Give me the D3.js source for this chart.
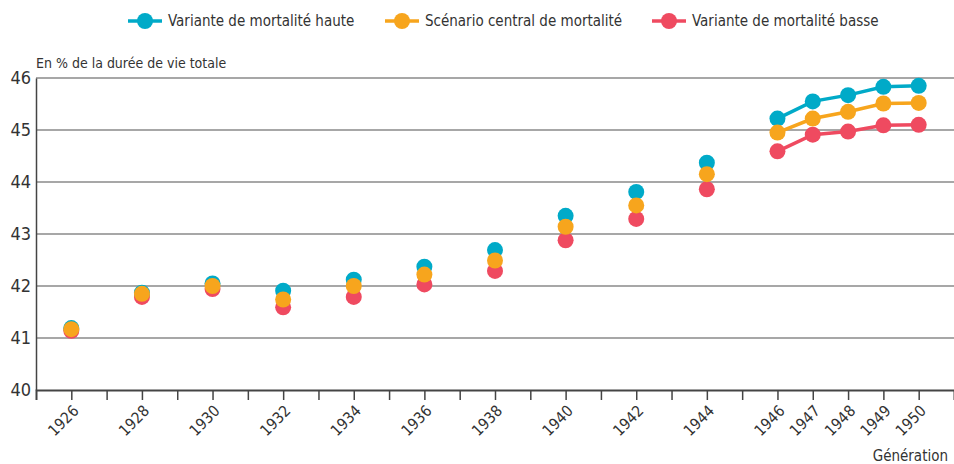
<!DOCTYPE html>
<html>
<head>
<meta charset="utf-8">
<script src="https://cdn.jsdelivr.net/npm/d3@7"></script>
<style>
  body { margin: 0; background: #fff; }
  svg text { font-family: "DejaVu Sans Condensed", "DejaVu Sans", sans-serif; font-stretch: condensed; }
</style>
</head>
<body>
<div id="chart"></div>
<script>
// Generations (x) and the three mortality scenarios (in % of total lifetime)
const years = [1926, 1928, 1930, 1932, 1934, 1936, 1938, 1940, 1942, 1944, 1946, 1947, 1948, 1949, 1950];
const haute   = [41.19, 41.87, 42.05, 41.91, 42.12, 42.37, 42.69, 43.35, 43.81, 44.37, 45.22, 45.55, 45.67, 45.83, 45.85];
const central = [41.17, 41.85, 42.00, 41.74, 42.00, 42.22, 42.49, 43.14, 43.55, 44.15, 44.95, 45.22, 45.35, 45.51, 45.52];
const basse   = [41.14, 41.79, 41.94, 41.59, 41.79, 42.03, 42.29, 42.88, 43.29, 43.86, 44.59, 44.91, 44.97, 45.09, 45.10];
const yTicks = [40, 41, 42, 43, 44, 45, 46];
const xTickLabels = [1926, 1928, 1930, 1932, 1934, 1936, 1938, 1940, 1942, 1944, 1946, 1947, 1948, 1949, 1950];
const lineStart = 1946; // annual projections are joined by a line from here

const series = [
    { name: "Variante de mortalité haute", color: "#00aac8", values: haute },
    { name: "Scénario central de mortalité", color: "#f7a51d", values: central },
    { name: "Variante de mortalité basse", color: "#ef4a60", values: basse }
];

const width = 954, height = 464;
const margin = { top: 78, right: 0, bottom: 74, left: 36 };

const svg = d3.select("#chart").append("svg")
    .attr("width", width)
    .attr("height", height);

const x = d3.scaleLinear().domain([1925, 1951]).range([margin.left, width - margin.right]);
const y = d3.scaleLinear().domain([40, 46]).range([height - margin.bottom, margin.top]);

// Horizontal grid lines
svg.append("g")
    .selectAll("line")
    .data(yTicks.filter(d => d > 40))
    .enter().append("line")
    .attr("x1", margin.left)
    .attr("x2", width)
    .attr("y1", d => y(d))
    .attr("y2", d => y(d))
    .attr("stroke", "#8a8a8a")
    .attr("stroke-width", 1.5);

// Y axis
const yAxis = svg.append("g")
    .attr("transform", `translate(${margin.left},0)`)
    .call(d3.axisLeft(y).tickValues(yTicks).tickFormat(d3.format("d")).tickSize(0).tickPadding(5));
yAxis.select(".domain").attr("stroke", "#444").attr("stroke-width", 1.5);
yAxis.selectAll("text").attr("font-size", 18).attr("fill", "#333").attr("font-family", null);

// X axis: a tick for each year, labels only on the chosen generations
const allYears = d3.range(1926, 1951);
const xAxis = svg.append("g")
    .attr("transform", `translate(0,${y(40)})`)
    .call(d3.axisBottom(x).tickValues(allYears).tickSize(10)
        .tickFormat(d => xTickLabels.includes(d) ? d : ""));
xAxis.select(".domain").attr("stroke", "#444").attr("stroke-width", 2);
xAxis.selectAll(".tick line").attr("stroke", "#444").attr("stroke-width", 1.5);
xAxis.selectAll("text")
    .attr("font-size", 15.5)
    .attr("fill", "#333")
    .attr("font-family", null)
    .attr("text-anchor", "end")
    .attr("x", 0)
    .attr("y", 0)
    .attr("dy", "0.35em")
    .attr("transform", "translate(4,18) rotate(-45)");

// Unit label and x title
svg.append("text")
    .attr("x", margin.left)
    .attr("y", 68)
    .attr("font-size", 14)
    .attr("fill", "#333")
    .text("En % de la durée de vie totale");

svg.append("text")
    .attr("x", width - 6)
    .attr("y", 461)
    .attr("text-anchor", "end")
    .attr("font-size", 15)
    .attr("fill", "#333")
    .text("Génération");

// Lines for the annual projections
const line = d3.line().x(d => x(d.year)).y(d => y(d.value));
series.forEach(s => {
    const pts = years.map((yr, i) => ({ year: yr, value: s.values[i] })).filter(d => d.year >= lineStart);
    svg.append("path")
        .datum(pts)
        .attr("fill", "none")
        .attr("stroke", s.color)
        .attr("stroke-width", 3.5)
        .attr("d", line);
});

// Dots: red first, then teal, orange on top
[series[2], series[0], series[1]].forEach(s => {
    svg.append("g")
        .selectAll("circle")
        .data(years.map((yr, i) => ({ year: yr, value: s.values[i] })))
        .enter().append("circle")
        .attr("cx", d => x(d.year))
        .attr("cy", d => y(d.value))
        .attr("r", 8)
        .attr("fill", s.color);
});

// Legend
const legendX = [128, 385, 652];
const legend = svg.append("g")
    .selectAll("g")
    .data(series)
    .enter().append("g")
    .attr("transform", (d, i) => `translate(${legendX[i]},21)`);
legend.append("line")
    .attr("x1", 0).attr("x2", 34)
    .attr("stroke", d => d.color)
    .attr("stroke-width", 3.5);
legend.append("circle")
    .attr("cx", 17)
    .attr("r", 8)
    .attr("fill", d => d.color);
legend.append("text")
    .attr("x", 40)
    .attr("dy", "0.35em")
    .attr("font-size", 15)
    .attr("fill", "#333")
    .text(d => d.name);
</script>
</body>
</html>
